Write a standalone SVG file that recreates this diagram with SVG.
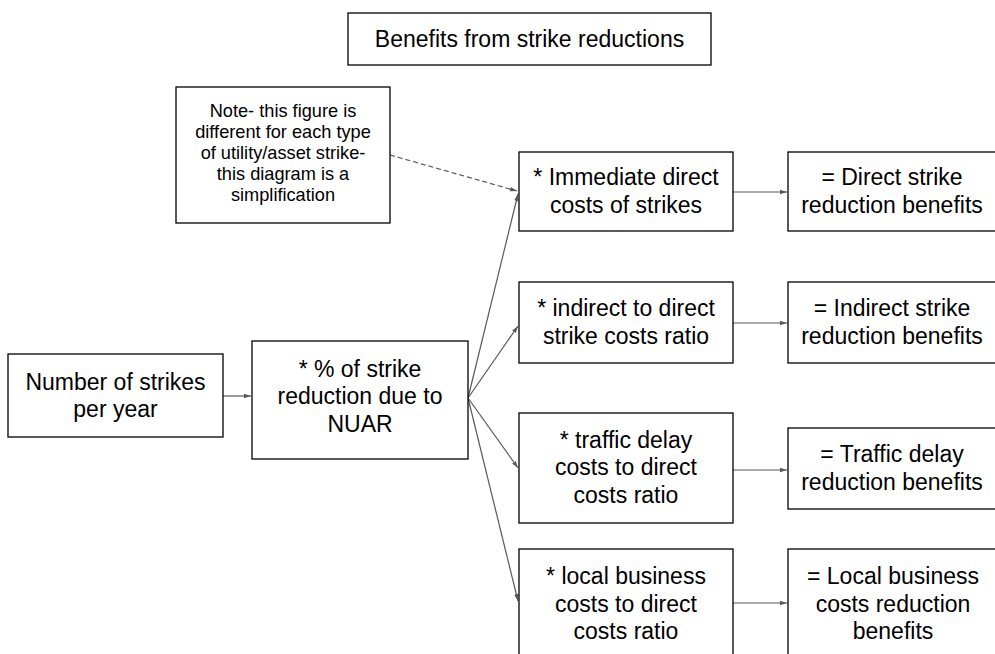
<svg xmlns="http://www.w3.org/2000/svg" width="995" height="654" viewBox="0 0 995 654">
<defs>
<style>
.box{fill:#fff;stroke:#000;stroke-width:1.3}
.t{font-family:"Liberation Sans",Arial,sans-serif;font-size:23px;fill:#000;text-anchor:middle}
.n{font-family:"Liberation Sans",Arial,sans-serif;font-size:18.2px;fill:#000;text-anchor:middle}
.c{stroke:#595959;stroke-width:1.2;fill:none}
.d{stroke:#595959;stroke-width:1.2;fill:none;stroke-dasharray:5,3}
</style>
<marker id="ah" markerWidth="8" markerHeight="6" refX="7" refY="3" orient="auto" markerUnits="userSpaceOnUse">
<path d="M0,0.8 L7,3 L0,5.2 Z" fill="#595959"/>
</marker>
</defs>
<rect width="995" height="654" fill="#fff"/>
<g id="connectors">
<line class="c" x1="223" y1="396" x2="251" y2="396" marker-end="url(#ah)"/>
<line class="c" x1="468" y1="398" x2="518" y2="194" marker-end="url(#ah)"/>
<line class="c" x1="468" y1="398" x2="518" y2="326" marker-end="url(#ah)"/>
<line class="c" x1="468" y1="398" x2="518" y2="468" marker-end="url(#ah)"/>
<line class="c" x1="468" y1="398" x2="518" y2="601" marker-end="url(#ah)"/>
<line class="d" x1="390" y1="155" x2="517" y2="191" marker-end="url(#ah)"/>
<line class="c" x1="733" y1="192" x2="787" y2="192" marker-end="url(#ah)"/>
<line class="c" x1="733" y1="323" x2="787" y2="323" marker-end="url(#ah)"/>
<line class="c" x1="733" y1="470" x2="787" y2="470" marker-end="url(#ah)"/>
<line class="c" x1="733" y1="603" x2="787" y2="603" marker-end="url(#ah)"/>
</g>
<g id="title">
<rect class="box" x="348" y="13" width="363" height="52"/>
<text class="t" x="529.5" y="47">Benefits from strike reductions</text>
</g>
<g id="note">
<rect class="box" x="176" y="87" width="214" height="136"/>
<text class="n"><tspan x="283" y="117">Note- this figure is</tspan><tspan x="283" y="138">different for each type</tspan><tspan x="283" y="159">of utility/asset strike-</tspan><tspan x="283" y="180">this diagram is a</tspan><tspan x="283" y="201">simplification</tspan></text>
</g>
<g id="strikes">
<rect class="box" x="8" y="354" width="215" height="83"/>
<text class="t"><tspan x="115.5" y="389.5">Number of strikes</tspan><tspan x="115.5" y="417">per year</tspan></text>
</g>
<g id="nuar">
<rect class="box" x="252" y="341" width="216" height="118"/>
<text class="t"><tspan x="360" y="376.5">* % of strike</tspan><tspan x="360" y="404">reduction due to</tspan><tspan x="360" y="431.5">NUAR</tspan></text>
</g>
<g id="immediate">
<rect class="box" x="519" y="152" width="214" height="79"/>
<text class="t"><tspan x="626" y="185">* Immediate direct</tspan><tspan x="626" y="213">costs of strikes</tspan></text>
</g>
<g id="direct">
<rect class="box" x="788" y="152" width="210" height="79"/>
<text class="t"><tspan x="892" y="185">= Direct strike</tspan><tspan x="892" y="213">reduction benefits</tspan></text>
</g>
<g id="indirect-ratio">
<rect class="box" x="519" y="282" width="214" height="81"/>
<text class="t"><tspan x="626" y="316">* indirect to direct</tspan><tspan x="626" y="344">strike costs ratio</tspan></text>
</g>
<g id="indirect">
<rect class="box" x="788" y="282" width="210" height="81"/>
<text class="t"><tspan x="892" y="316">= Indirect strike</tspan><tspan x="892" y="344">reduction benefits</tspan></text>
</g>
<g id="traffic-ratio">
<rect class="box" x="519" y="413" width="214" height="110"/>
<text class="t"><tspan x="626" y="447.5">* traffic delay</tspan><tspan x="626" y="475">costs to direct</tspan><tspan x="626" y="502.5">costs ratio</tspan></text>
</g>
<g id="traffic">
<rect class="box" x="788" y="428" width="210" height="81"/>
<text class="t"><tspan x="892" y="462">= Traffic delay</tspan><tspan x="892" y="489.5">reduction benefits</tspan></text>
</g>
<g id="business-ratio">
<rect class="box" x="519" y="549" width="214" height="110"/>
<text class="t"><tspan x="626" y="584">* local business</tspan><tspan x="626" y="611.5">costs to direct</tspan><tspan x="626" y="639">costs ratio</tspan></text>
</g>
<g id="business">
<rect class="box" x="788" y="549" width="210" height="110"/>
<text class="t"><tspan x="893" y="584">= Local business</tspan><tspan x="893" y="611.5">costs reduction</tspan><tspan x="893" y="639">benefits</tspan></text>
</g>
</svg>
